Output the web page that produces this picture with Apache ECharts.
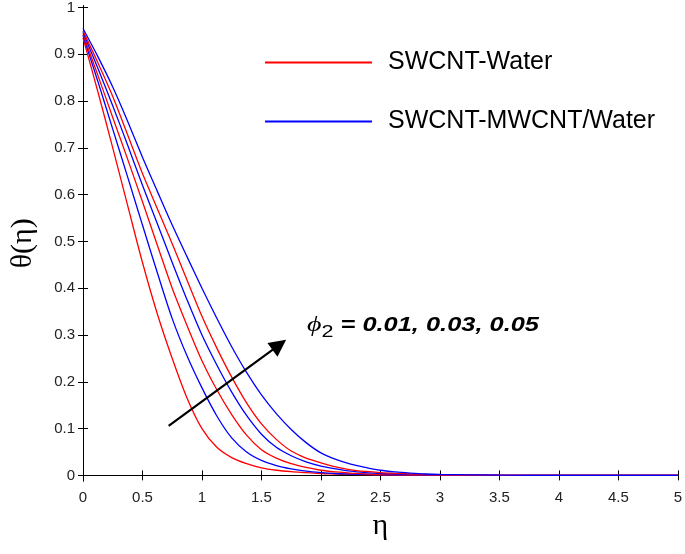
<!DOCTYPE html>
<html>
<head>
<meta charset="utf-8">
<script src="https://cdn.jsdelivr.net/npm/echarts@6/dist/echarts.min.js"></script>
<style>html,body{margin:0;padding:0;background:#fff;}#c{width:685px;height:554px;}</style>
</head>
<body>
<div id="c"></div>
<script>
// eta grid
var eta = [0, 0.125, 0.25, 0.375, 0.5, 0.625, 0.75, 0.875, 1, 1.125, 1.25, 1.375, 1.5, 1.625, 1.75, 1.875, 2, 2.125, 2.25, 2.375, 2.5, 2.625, 2.75, 2.875, 3, 3.5, 4, 4.5, 5];
// SWCNT-Water, phi2 = 0.01, 0.03, 0.05
var red1 = [0.935, 0.820, 0.700, 0.577, 0.455, 0.345, 0.250, 0.165, 0.100, 0.060, 0.038, 0.025, 0.016, 0.011, 0.008, 0.006, 0.004, 0.003, 0.002, 0.0015, 0.001, 0.0007, 0.0005, 0.0002, 0, 0, 0, 0, 0];
var red2 = [0.943, 0.855, 0.765, 0.676, 0.585, 0.492, 0.400, 0.320, 0.245, 0.183, 0.130, 0.086, 0.055, 0.037, 0.025, 0.017, 0.011, 0.0075, 0.005, 0.0033, 0.002, 0.0015, 0.001, 0.0007, 0.0005, 0, 0, 0, 0];
var red3 = [0.950, 0.882, 0.810, 0.728, 0.645, 0.570, 0.495, 0.417, 0.340, 0.272, 0.210, 0.155, 0.110, 0.077, 0.052, 0.037, 0.027, 0.018, 0.012, 0.0085, 0.006, 0.0043, 0.003, 0.002, 0.001, 0, 0, 0, 0];
// SWCNT-MWCNT/Water, phi2 = 0.01, 0.03, 0.05
var blue1 = [0.940, 0.842, 0.740, 0.638, 0.535, 0.433, 0.335, 0.255, 0.187, 0.127, 0.080, 0.050, 0.032, 0.021, 0.014, 0.009, 0.006, 0.004, 0.003, 0.002, 0.0015, 0.001, 0.0007, 0.0003, 0, 0, 0, 0, 0];
var blue2 = [0.947, 0.870, 0.790, 0.706, 0.620, 0.538, 0.455, 0.375, 0.300, 0.236, 0.178, 0.128, 0.088, 0.060, 0.042, 0.029, 0.020, 0.014, 0.009, 0.006, 0.004, 0.003, 0.002, 0.0015, 0.001, 0, 0, 0, 0];
var blue3 = [0.955, 0.895, 0.830, 0.757, 0.680, 0.607, 0.535, 0.467, 0.400, 0.336, 0.275, 0.220, 0.172, 0.132, 0.098, 0.070, 0.048, 0.034, 0.024, 0.017, 0.011, 0.0075, 0.005, 0.003, 0.002, 0.0005, 0, 0, 0];
var yTicks = [0, 0.1, 0.2, 0.3, 0.4, 0.5, 0.6, 0.7, 0.8, 0.9, 1];
var nameRed = 'SWCNT-Water';
var nameBlue = 'SWCNT-MWCNT/Water';
var arrowFrom = [0.72, 0.106];
var arrowTo = [1.65, 0.279];

function pairs(ys) { return eta.map(function (e, i) { return [e, ys[i]]; }); }
var labelFont = "'Liberation Sans',Arial,sans-serif";

function mk(name, color, ys, extra) {
  var s = {
    name: name, type: 'line', data: pairs(ys), showSymbol: false, symbol: 'none',
    smooth: 0.3,
    lineStyle: { color: color, width: 1.3 }, itemStyle: { color: color }, z: 3
  };
  if (extra) Object.assign(s, extra);
  return s;
}

var chart = echarts.init(document.getElementById('c'), null, { renderer: 'canvas' });
var axisLine = { show: true, lineStyle: { color: '#000', width: 1 } };
chart.setOption({
  animation: false,
  backgroundColor: '#fff',
  grid: { left: 79, right: 5, top: 5, bottom: 73 },
  legend: {
    orient: 'vertical', left: 265, top: 50, padding: 0,
    icon: 'rect', itemWidth: 107, itemHeight: 2, itemGap: 34,
    data: [nameRed, nameBlue],
    textStyle: { fontFamily: "'Liberation Sans',Arial,sans-serif", fontSize: 25, color: '#000', padding: [0, 0, 0, 11] }
  },
  xAxis: [{
    type: 'value', min: 0, max: 5, interval: 0.5, position: 'bottom',
    axisLine: axisLine,
    axisTick: { show: true, inside: true, length: 5, lineStyle: { color: '#000' } },
    axisLabel: { color: '#222', fontSize: 15, fontFamily: labelFont, margin: 9, formatter: function (v) { return String(v); } },
    splitLine: { show: false },
    name: 'η', nameLocation: 'middle', nameGap: 30,
    nameTextStyle: { fontSize: 30, color: '#000', fontFamily: "'Liberation Serif','DejaVu Serif',serif" }
  }, {
    type: 'value', min: 0, max: 5, interval: 0.5, position: 'top',
    axisLine: axisLine,
    axisTick: { show: true, inside: true, length: 5, lineStyle: { color: '#000' } },
    axisLabel: { show: false }, splitLine: { show: false }
  }],
  yAxis: [{
    type: 'value', min: -0.012, max: 1.004, position: 'left',
    axisLine: axisLine,
    axisTick: { show: true, inside: true, length: 5, customValues: yTicks, lineStyle: { color: '#000' } },
    axisLabel: { color: '#222', fontSize: 15, fontFamily: labelFont, margin: 8, customValues: yTicks, formatter: function (v) { return String(Math.round(v * 10) / 10); } },
    splitLine: { show: false },
    name: 'θ(η)', nameLocation: 'middle', nameGap: 45, nameRotate: 90,
    nameTextStyle: { fontSize: 30, color: '#000', fontFamily: "'Liberation Serif','DejaVu Serif',serif" }
  }, {
    type: 'value', min: -0.012, max: 1.004, position: 'right',
    axisLine: axisLine,
    axisTick: { show: true, inside: true, length: 5, customValues: yTicks, lineStyle: { color: '#000' } },
    axisLabel: { show: false }, splitLine: { show: false }
  }],
  series: [
    mk(nameRed, '#ff0000', red1, {
      markLine: {
        silent: true, symbol: ['none', 'triangle'], symbolSize: 17,
        lineStyle: { color: '#000', width: 2.2, type: 'solid' }, itemStyle: { color: '#000' }, label: { show: false },
        emphasis: { disabled: true },
        data: [[{ coord: arrowFrom }, { coord: arrowTo }]]
      }
    }),
    mk(nameBlue, '#0000ff', blue1),
    mk(nameRed, '#ff0000', red2),
    mk(nameBlue, '#0000ff', blue2),
    mk(nameRed, '#ff0000', red3),
    mk(nameBlue, '#0000ff', blue3)
  ],
  graphic: [{
    type: 'text', x: 307, y: 310, scaleX: 1.27,
    style: {
      text: '{p|ϕ}{s|2}{t| = 0.01, 0.03, 0.05}',
      rich: {
        p: { fontSize: 22, fontStyle: 'italic', fontFamily: "'Liberation Serif',serif", fill: '#000' },
        s: { fontSize: 17, fontFamily: "'Liberation Sans',Arial,sans-serif", fill: '#000', padding: [14, 0, 0, 0] },
        t: { fontSize: 20, fontStyle: 'italic', fontWeight: 'bold', fontFamily: "'Liberation Sans',Arial,sans-serif", fill: '#000' }
      }
    }
  }]
});
</script>
</body>
</html>
